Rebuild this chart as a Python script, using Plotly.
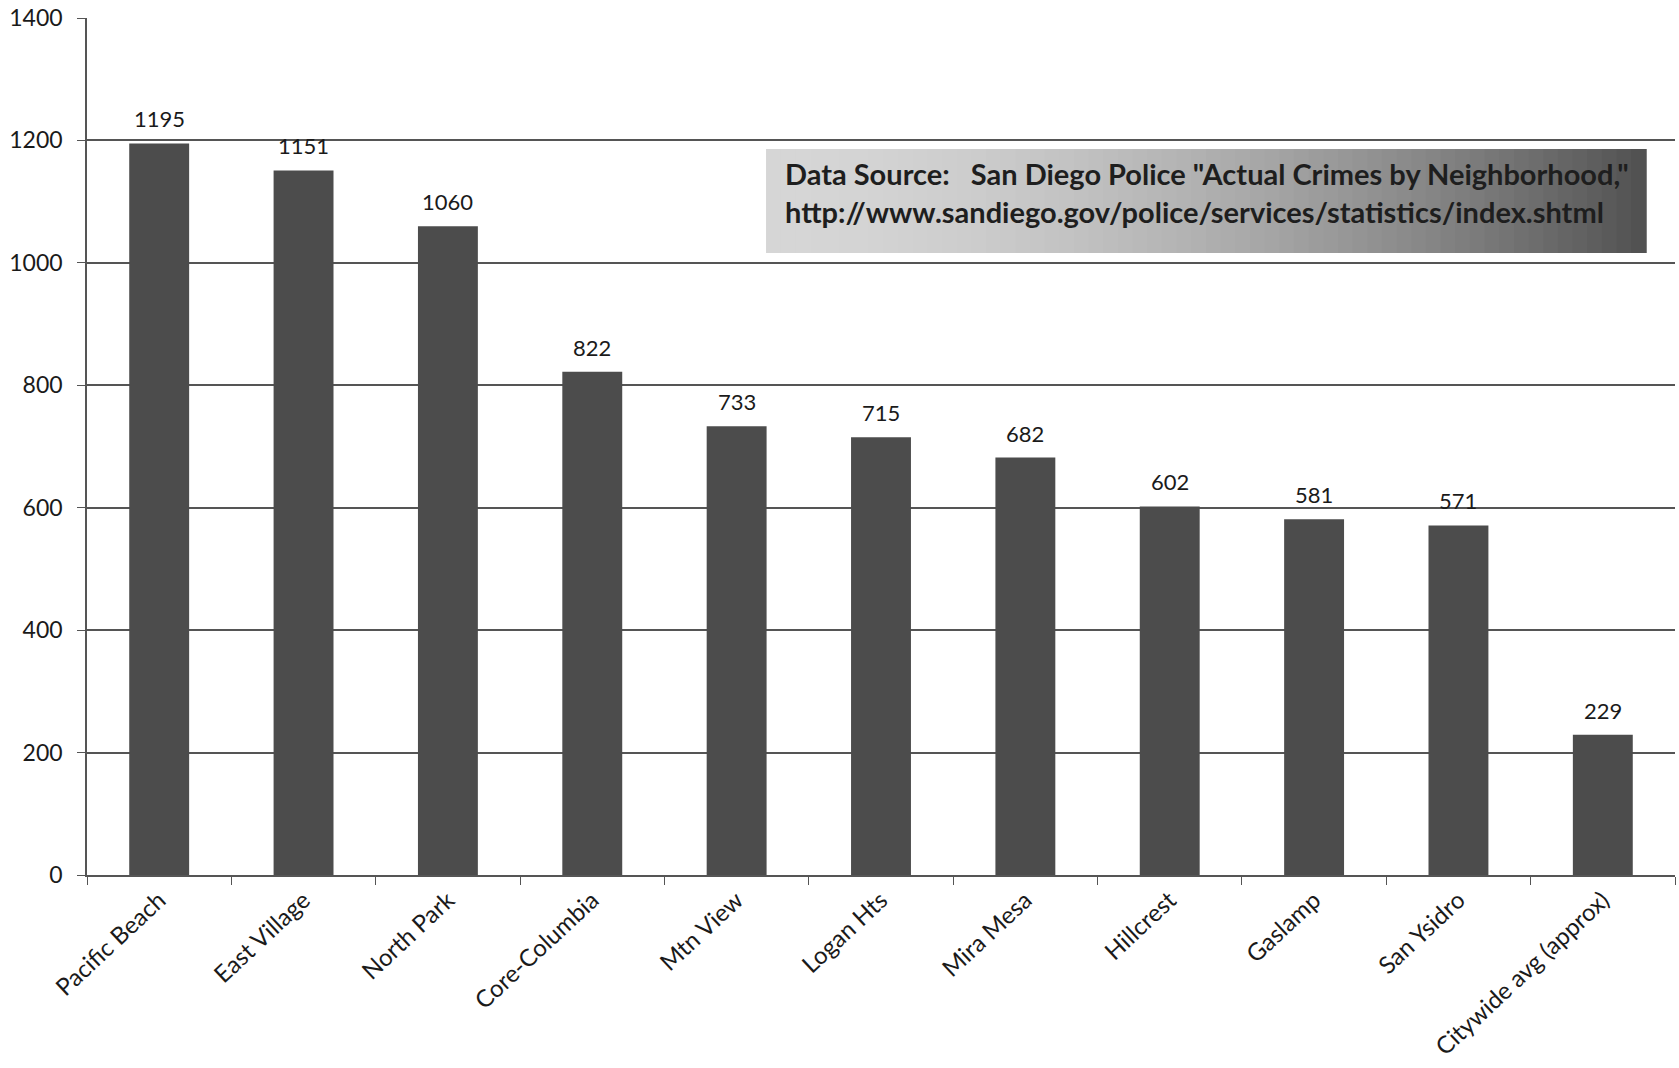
import plotly.graph_objects as go

categories = ["Pacific Beach", "East Village", "North Park", "Core-Columbia", "Mtn View",
              "Logan Hts", "Mira Mesa", "Hillcrest", "Gaslamp", "San Ysidro",
              "Citywide avg (approx)"]
values = [1195, 1151, 1060, 822, 733, 715, 682, 602, 581, 571, 229]
y_ticks = [0, 200, 400, 600, 800, 1000, 1200, 1400]

FONT = "Lato"
fig = go.Figure()
fig.add_trace(go.Bar(x=categories, y=values, marker=dict(color="#4c4c4c", line=dict(width=0)),
                     hoverinfo="x+y"))

annotations = []
for c, v in zip(categories, values):
    annotations.append(dict(x=c, y=v, text=str(v), showarrow=False, xref="x", yref="y",
                            yanchor="bottom", yshift=9,
                            font=dict(family=FONT, size=22, color="#1a1a1a")))

# gradient box (decoration)
shapes = []
x0, x1, y0, y1 = 0.4276, 0.9817, 0.7258, 0.8471
n = 60
c_left = (214, 214, 214)
c_right = (80, 80, 80)
for i in range(n):
    t = (i + 0.5) / n
    tt = t ** 1.8
    col = tuple(int(round(a + (b - a) * tt)) for a, b in zip(c_left, c_right))
    shapes.append(dict(type="rect", xref="paper", yref="paper",
                       x0=x0 + (x1 - x0) * i / n, x1=x0 + (x1 - x0) * (i + 1) / n + 0.0005,
                       y0=y0, y1=y1, line=dict(width=0),
                       fillcolor="rgb(%d,%d,%d)" % col, layer="above"))

annotations.append(dict(xref="paper", yref="paper", x=0.4385, y=0.796, xanchor="left", yanchor="middle",
                        align="left", showarrow=False,
                        text='Data Source:   San Diego Police "Actual Crimes by Neighborhood,"<br>'
                             'http://www.sandiego.gov/police/services/statistics/index.shtml',
                        font=dict(family=FONT, size=29, color="#1e1e1e", weight="bold")))

fig.update_layout(
    width=1679, height=1068,
    margin=dict(l=87, r=4, t=18, b=193),
    paper_bgcolor="white", plot_bgcolor="white",
    bargap=0.585, showlegend=False,
    annotations=annotations, shapes=shapes,
    font=dict(family=FONT, size=21, color="#1a1a1a"),
)
fig.update_xaxes(type="category", tickangle=-43, tickson="boundaries", ticks="outside", ticklen=8,
                 tickcolor="#555", showline=True, linecolor="#555", linewidth=1.5, showgrid=False,
                 tickfont=dict(family=FONT, size=24, color="#1a1a1a"))
fig.update_yaxes(range=[0, 1400], tickvals=y_ticks, ticks="outside", ticklen=8, tickcolor="#555",
                 showline=True, linecolor="#555", linewidth=1.5, showgrid=True, gridcolor="#555",
                 gridwidth=1.5, zeroline=False, ticklabelstandoff=10,
                 tickfont=dict(family=FONT, size=23, color="#1a1a1a"))

fig.write_html("out.html")
